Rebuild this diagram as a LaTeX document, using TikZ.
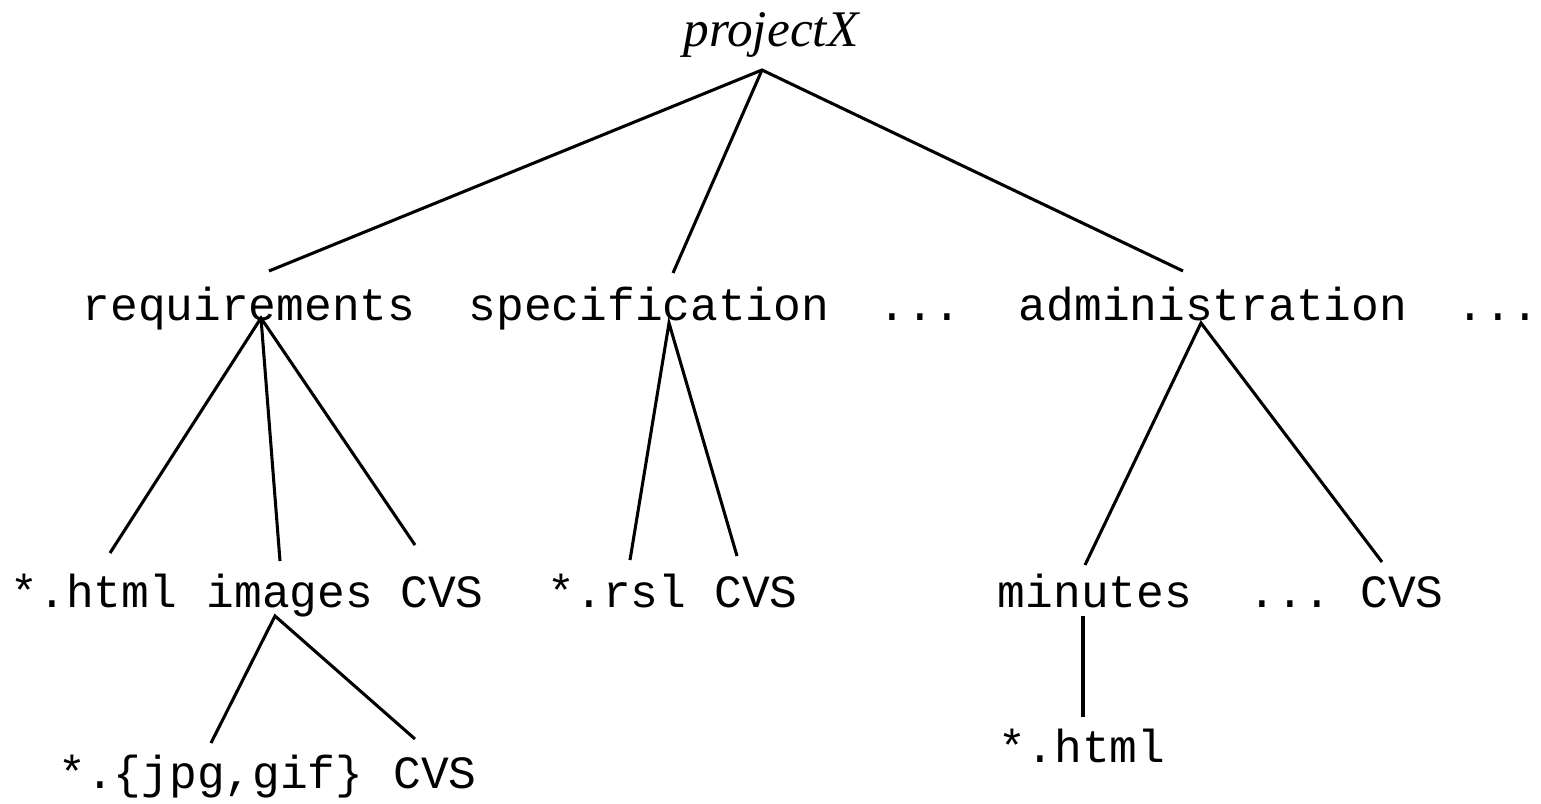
\documentclass[tikz,border=0pt]{standalone}
\usepackage{fontspec}
\newfontfamily\treemono{Liberation Mono}
\newfontfamily\treeserif{Liberation Serif}
\begin{document}
\begin{tikzpicture}[x=0.75pt,y=-0.75pt,
  edge/.style={line width=2.3pt},
  dir/.style={font=\treemono\fontsize{34.65}{40}\selectfont, anchor=base, inner sep=0pt},
  top/.style={font=\treeserif\itshape\fontsize{38.5}{44}\selectfont, anchor=base, inner sep=0pt}]
\useasboundingbox (0,0) rectangle (1541,803);

% root
\node[top] (root) at (771,46) {projectX};

% first level
\node[dir] (req)  at (249,320)  {requirements};
\node[dir] (spec) at (649,320)  {specification};
\node[dir] (dots1) at (920,320) {...};
\node[dir] (adm)  at (1213,320) {administration};
\node[dir] (dots2) at (1498,320) {...};

% second level
\node[dir] (reqhtml) at (94,607)   {*.html};
\node[dir] (img)     at (290,607)  {images};
\node[dir] (reqcvs)  at (442,607)  {CVS};
\node[dir] (rsl)     at (617,607)  {*.rsl};
\node[dir] (speccvs) at (756,607)  {CVS};
\node[dir] (min)     at (1095,607) {minutes};
\node[dir] (dots3)   at (1290,607) {...};
\node[dir] (admcvs)  at (1402,607) {CVS};

% third level
\node[dir] (jpg)    at (211,788)  {*.\{jpg,gif\}};
\node[dir] (imgcvs) at (435,788)  {CVS};
\node[dir] (minhtml) at (1082,762) {*.html};

% attachment points of the branches
\coordinate (root-d) at (762,70);
\coordinate (req-u)  at (269,271);
\coordinate (req-d)  at (261,318);
\coordinate (spec-u) at (673,273);
\coordinate (spec-d) at (669,323);
\coordinate (adm-u)  at (1183,271);
\coordinate (adm-d)  at (1201,323);
\coordinate (reqhtml-u) at (110,553);
\coordinate (img-u)  at (280,561);
\coordinate (img-d)  at (275,616);
\coordinate (reqcvs-u) at (415,545);
\coordinate (rsl-u)  at (630,560);
\coordinate (speccvs-u) at (737,556);
\coordinate (min-u)  at (1085,565);
\coordinate (min-d)  at (1083,616);
\coordinate (admcvs-u) at (1382,562);
\coordinate (jpg-u)  at (211,743);
\coordinate (imgcvs-u) at (415,739);
\coordinate (minhtml-u) at (1083,717);

% branches
\draw[edge] (req-u) -- (root-d) -- (adm-u);
\draw[edge] (root-d) -- (spec-u);
\draw[edge] (reqhtml-u) -- (req-d) -- (reqcvs-u);
\draw[edge] (req-d) -- (img-u);
\draw[edge] (rsl-u) -- (spec-d) -- (speccvs-u);
\draw[edge] (min-u) -- (adm-d) -- (admcvs-u);
\draw[edge] (jpg-u) -- (img-d) -- (imgcvs-u);
\draw[edge] (min-d) -- (minhtml-u);
\end{tikzpicture}
\end{document}
